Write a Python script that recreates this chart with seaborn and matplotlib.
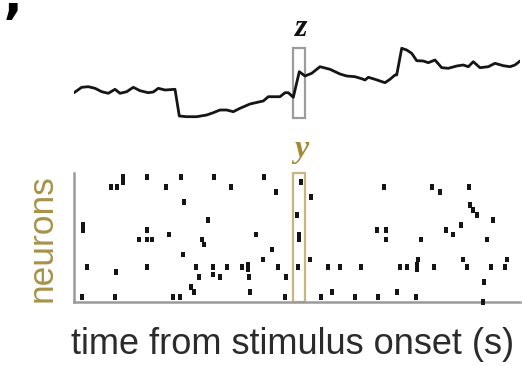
import numpy as np
import pandas as pd
import matplotlib
matplotlib.use("Agg")
import matplotlib.pyplot as plt
from matplotlib.patches import Rectangle
import seaborn as sns

# ---------------- data ----------------
# top trace (time in s, arbitrary units)
trace_t = [0.00, 0.077, 0.143, 0.21, 0.277, 0.343, 0.41, 0.46, 0.527, 0.593,
           0.66, 0.743, 0.793, 0.843, 0.91, 1.01, 1.053, 1.127, 1.227, 1.327,
           1.393, 1.46, 1.527, 1.593, 1.66, 1.76, 1.86, 1.893, 1.943, 1.993,
           2.06, 2.11, 2.143, 2.193, 2.253, 2.31, 2.377, 2.46, 2.56, 2.66,
           2.727, 2.81, 2.877, 2.91, 2.943, 3.01, 3.11, 3.16, 3.21, 3.227,
           3.277, 3.327, 3.377, 3.427, 3.493, 3.543, 3.61, 3.677, 3.743, 3.827,
           3.893, 3.943, 3.993, 4.06, 4.143, 4.21, 4.293, 4.36, 4.41, 4.46]
trace_v = [2.73, 3.27, 3.33, 3.17, 2.83, 2.67, 3.07, 2.67, 2.83, 3.27,
           2.93, 2.73, 2.80, 3.17, 3.00, 3.07, 0.40, 0.33, 0.33, 0.50,
           0.73, 1.00, 1.00, 0.83, 1.17, 1.60, 1.83, 1.90, 2.33, 2.33,
           2.33, 2.73, 2.73, 2.27, 4.83, 4.40, 4.67, 5.33, 5.07, 4.60,
           4.40, 4.33, 4.13, 4.00, 4.27, 4.07, 3.73, 4.07, 4.50, 4.50,
           7.17, 7.00, 6.67, 5.93, 5.90, 5.73, 6.00, 5.23, 5.17, 5.40,
           5.50, 5.33, 5.83, 5.23, 5.33, 5.67, 5.43, 5.33, 5.50, 5.90]

# raster spikes (time in s, neuron index)
spike_t = [0.49, 0.49, 0.37, 0.43, 0.73, 0.92, 1.07, 1.40, 1.10, 0.09,
           0.09, 0.73, 1.34, 0.65, 0.73, 0.78, 0.95, 1.28, 1.30, 1.09,
           0.13, 0.42, 0.73, 1.22, 1.25, 1.39, 1.39, 1.17, 1.20, 0.08,
           0.41, 0.99, 1.06, 1.46, 1.53, 1.68, 1.74, 1.74, 1.75, 1.76,
           1.82, 1.57, 1.90, 2.02, 2.27, 2.37, 2.23, 2.25, 2.25, 1.98,
           1.89, 2.36, 2.04, 2.12, 2.11, 2.24, 2.54, 2.66, 2.87, 2.47,
           2.58, 2.81, 3.04, 3.23, 3.42, 4.09, 4.10, 3.10, 3.58, 3.66,
           3.95, 3.96, 3.99, 4.03, 4.19, 3.87, 3.72, 3.79, 3.03, 3.12,
           3.12, 3.47, 4.13, 3.26, 3.33, 3.44, 3.43, 3.43, 3.60, 3.89,
           3.93, 4.17, 4.31, 4.33]
spike_n = [48, 46, 44, 44, 48, 44, 48, 48, 38, 29,
           27, 27, 31, 23, 23, 23, 25, 23, 21, 17,
           12, 10, 12, 12, 8, 12, 9, 4, 2, 0,
           0, 0, 0, 8, 12, 12, 13, 11, 8, 2,
           25, 44, 48, 42, 46, 40, 33, 25, 23, 19,
           15, 15, 12, 8, 0, 12, 12, 12, 12, 0,
           2, 0, 0, 2, 0, -2, 6, 44, 44, 42,
           44, 37, 35, 33, 31, 29, 27, 25, 27, 27,
           23, 23, 23, 12, 12, 15, 13, 11, 12, 15,
           12, 12, 12, 15]

# highlighted windows
z_window = (2.193, 2.31)
y_window = (2.187, 2.31)

x_label = "time from stimulus onset (s)"
y_label = "neurons"

# ---------------- figure ----------------
sns.set_style("white")
plt.rcParams["font.family"] = ["Liberation Sans", "DejaVu Sans"]

W, H = 522, 366
fig = plt.figure(figsize=(W / 100, H / 100), dpi=100)
fig.patch.set_facecolor("white")

def fx(px):
    return px / W

def fy(py):
    return 1 - py / H

# trace axes
ax_tr = fig.add_axes([fx(74), fy(120), fx(520) - fx(74), fy(40) - fy(120)])
df_tr = pd.DataFrame({"t": trace_t, "v": trace_v})
sns.lineplot(data=df_tr, x="t", y="v", ax=ax_tr, color="#151515",
             linewidth=2.0, estimator=None, sort=False)
ax_tr.set_xlim(0, 4.46)
ax_tr.set_ylim(0, 8)
ax_tr.axis("off")
ax_tr.add_patch(Rectangle((z_window[0], 0.23), z_window[1] - z_window[0], 7.0,
                          fill=False, edgecolor="#9c9c9c", linewidth=1.6,
                          clip_on=False))

# raster axes
ax_r = fig.add_axes([fx(74), fy(302.3), fx(520) - fx(74), fy(173) - fy(302.3)])
df_sp = pd.DataFrame({"t": spike_t, "n": spike_n})
bar_marker = [(-0.33, -0.5), (0.33, -0.5), (0.33, 0.5), (-0.33, 0.5)]
sns.scatterplot(data=df_sp, x="t", y="n", ax=ax_r, marker=bar_marker, s=17,
                color="#151515", edgecolor="none", linewidth=0, clip_on=False,
                zorder=3)
ax_r.set_xlim(0, 4.46)
ax_r.set_ylim(-2.12, 49.7)
ax_r.set_xticks([])
ax_r.set_yticks([])
ax_r.set_xlabel("")
ax_r.set_ylabel("")
for side in ["top", "right"]:
    ax_r.spines[side].set_visible(False)
for side in ["left", "bottom"]:
    ax_r.spines[side].set_color("#9a9a9a")
    ax_r.spines[side].set_linewidth(1.8)
ax_r.add_patch(Rectangle((y_window[0], -2.1), y_window[1] - y_window[0], 51.6,
                         fill=False, edgecolor="#c9b57f", linewidth=1.6,
                         clip_on=False, zorder=2))

# texts
fig.text(fx(301), fy(28), "z", fontsize=23, fontstyle="italic", fontweight="bold",
         family=["Liberation Serif", "DejaVu Serif"], color="#111111",
         ha="center", va="center")
fig.text(fx(301), fy(149), "y", fontsize=23, fontstyle="italic", fontweight="bold",
         family=["Liberation Serif", "DejaVu Serif"], color="#a08a35",
         ha="center", va="center")
fig.text(fx(42), fy(238), y_label, fontsize=25.5, rotation=90, color="#a8924a",
         ha="center", va="center")
fig.text(fx(293), fy(345), x_label, fontsize=26, color="#2b2b2b",
         ha="center", va="center")
fig.text(fx(13), fy(0.5), "\u2019", fontsize=38, fontweight="bold", color="#000000",
         ha="center", va="top", family=["DejaVu Sans"])

fig.savefig("out.png", dpi=100, facecolor="white")
